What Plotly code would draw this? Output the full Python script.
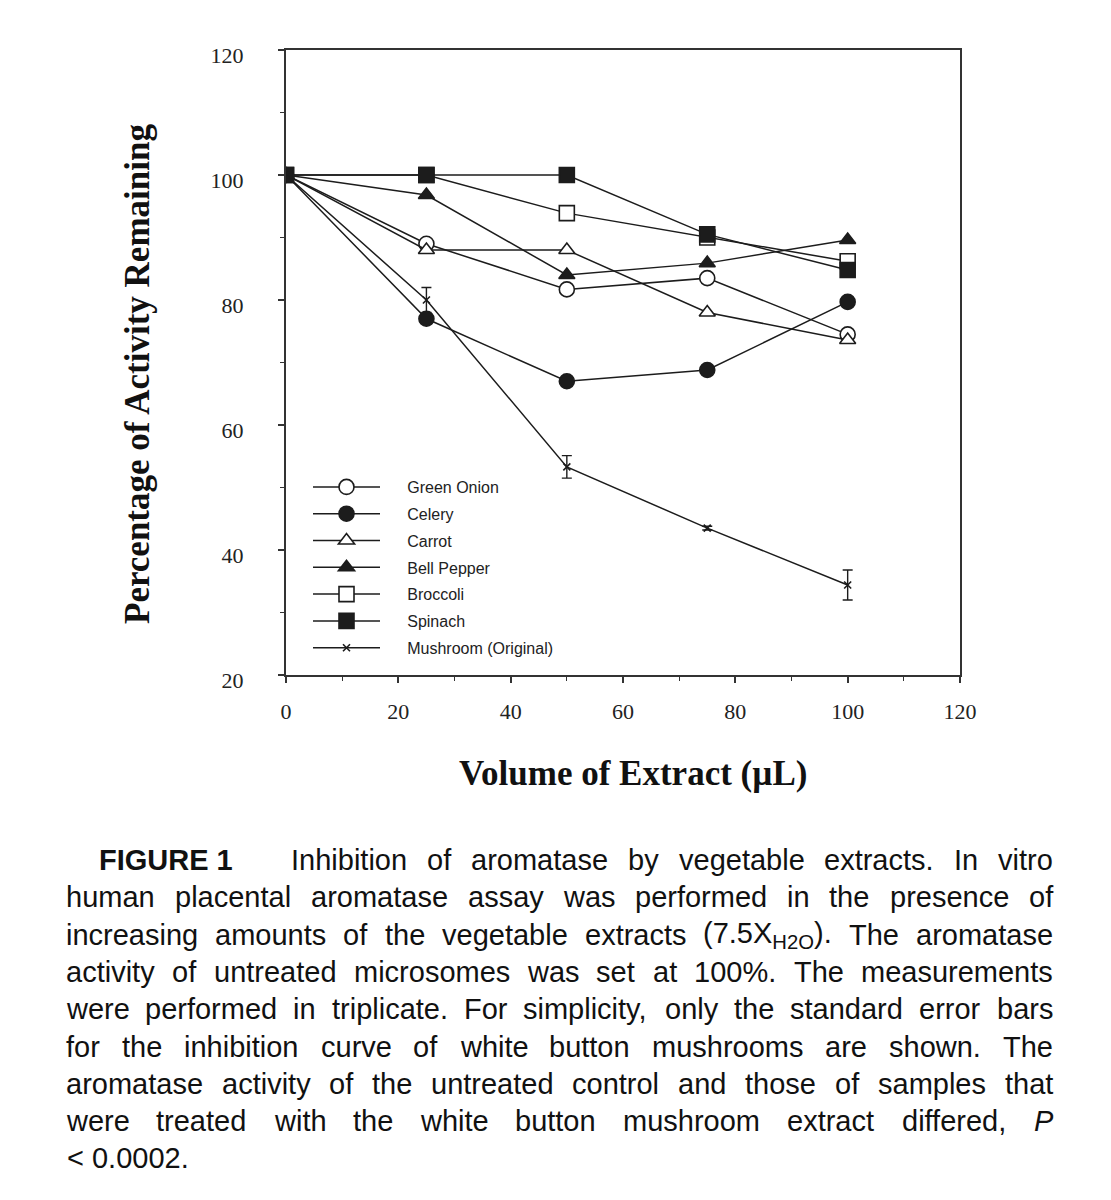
import re
import plotly.graph_objects as go

# ---------------- data ----------------
volume = [0, 25, 50, 75, 100]
green_onion = [100, 89.0, 81.7, 83.5, 74.5]
celery = [100, 77.0, 67.0, 68.8, 79.7]
carrot = [100, 88.0, 88.0, 78.0, 73.6]
bell_pepper = [100, 96.8, 84.0, 85.9, 89.6]
broccoli = [100, 100, 93.9, 90.0, 86.2]
spinach = [100, 100, 100, 90.5, 84.8]
mushroom = [100, 80.0, 53.3, 43.5, 34.4]
mushroom_err = [0, 2.0, 1.8, 0.3, 2.4]

series_names = ["Green Onion", "Celery", "Carrot", "Bell Pepper", "Broccoli",
                "Spinach", "Mushroom (Original)"]
x_ticks = [0, 20, 40, 60, 80, 100, 120]
y_ticks = [20, 40, 60, 80, 100, 120]

x_title = "Volume of Extract (µL)"
y_title = "Percentage of Activity Remaining"

caption_head = "FIGURE 1"
caption_lines = [
    "Inhibition of aromatase by vegetable extracts. In vitro",
    "human placental aromatase assay was performed in the presence of",
    "increasing amounts of the vegetable extracts (7.5X<sub>H2O</sub>). The aromatase",
    "activity of untreated microsomes was set at 100%. The measurements",
    "were performed in triplicate. For simplicity, only the standard error bars",
    "for the inhibition curve of white button mushrooms are shown. The",
    "aromatase activity of the untreated control and those of samples that",
    "were treated with the white button mushroom extract differed, <i>P</i>",
    "< 0.0002.",
]

# ---------------- styling ----------------
LINE = "#1c1c1c"
SERIF = "Liberation Serif, Times New Roman, serif"
SANS = "Liberation Sans, Arial, sans-serif"

OFF = 8  # page body margin
# plot area in screen pixels
L, R, T, B = 286, 960, 50, 675
FW, FH = 1111 - OFF, 1200 - OFF


def px2x(px):
    return (px - L) / (R - L)


def py2y(py):
    return (B - py) / (B - T)


styles = [
    dict(symbol="circle", size=15, fill="white"),
    dict(symbol="circle", size=15, fill=LINE),
    dict(symbol="triangle-up", size=14, fill="white"),
    dict(symbol="triangle-up", size=14, fill=LINE),
    dict(symbol="square", size=15, fill="white"),
    dict(symbol="square", size=15, fill=LINE),
    dict(symbol="x-thin", size=7, fill=LINE),
]
values = [green_onion, celery, carrot, bell_pepper, broccoli, spinach, mushroom]

PAD = "\u00a0" * 5

fig = go.Figure()
for i, (name, vals, st) in enumerate(zip(series_names, values, styles)):
    kw = {}
    if name.startswith("Mushroom"):
        kw["error_y"] = dict(type="data", array=mushroom_err, visible=True,
                             color=LINE, thickness=1.4, width=5)
    fig.add_trace(go.Scatter(
        x=volume, y=vals, name=PAD + name, mode="lines+markers",
        legendgroup=f"g{i}",
        line=dict(color=LINE, width=1.5),
        marker=dict(symbol=st["symbol"], size=st["size"], color=st["fill"],
                    line=dict(color=LINE, width=1.6)),
        **kw,
    ))

# ---------------- caption (justified) ----------------
AW = {' ': 278, '!': 278, '(': 333, ')': 333, ',': 278, '-': 333, '.': 278,
      '%': 889, '<': 584, '/': 278,
      'A': 667, 'B': 667, 'C': 722, 'D': 722, 'E': 667, 'F': 611, 'G': 778,
      'H': 722, 'I': 278, 'J': 500, 'K': 667, 'L': 556, 'M': 833, 'N': 722,
      'O': 778, 'P': 667, 'Q': 778, 'R': 722, 'S': 667, 'T': 611, 'U': 722,
      'V': 667, 'W': 944, 'X': 667, 'Y': 667, 'Z': 611,
      'a': 556, 'b': 556, 'c': 500, 'd': 556, 'e': 556, 'f': 278, 'g': 556,
      'h': 556, 'i': 222, 'j': 222, 'k': 500, 'l': 222, 'm': 833, 'n': 556,
      'o': 556, 'p': 556, 'q': 556, 'r': 333, 's': 500, 't': 278, 'u': 556,
      'v': 500, 'w': 722, 'x': 500, 'y': 500, 'z': 500}
for d in "0123456789":
    AW[d] = 556

CAP_SIZE = 29


def word_width(w, size):
    total = 0.0
    for p in re.split(r"(<sub>.*?</sub>)", w):
        if p.startswith("<sub>"):
            inner = p[5:-6]
            total += sum(AW.get(c, 556) for c in inner) * size * 0.7 / 1000
        else:
            clean = re.sub(r"</?i>", "", p)
            total += sum(AW.get(c, 556) for c in clean) * size / 1000
    return total


CAP_LEFT, CAP_RIGHT = 65, 1052
CAP_Y0, CAP_DY = 860, 37.3

annotations = []
cap_font = dict(family=SANS, size=CAP_SIZE, color="#111111")

annotations.append(dict(
    text=f"<b>{caption_head}</b>", x=px2x(97), y=py2y(CAP_Y0),
    xref="paper", yref="paper", xanchor="left", yanchor="middle",
    showarrow=False, font=cap_font))

for li, line in enumerate(caption_lines):
    y = py2y(CAP_Y0 + li * CAP_DY)
    words = line.split(" ")
    left = 290 if li == 0 else CAP_LEFT
    if li == len(caption_lines) - 1:
        annotations.append(dict(
            text=line, x=px2x(left), y=y, xref="paper", yref="paper",
            xanchor="left", yanchor="middle", showarrow=False, font=cap_font))
        continue
    widths = [word_width(w, CAP_SIZE) for w in words]
    gap = (CAP_RIGHT - left - sum(widths)) / (len(words) - 1)
    xpos = left
    for w, wd in zip(words, widths):
        annotations.append(dict(
            text=w, x=px2x(xpos), y=y, xref="paper", yref="paper",
            xanchor="left", yanchor="middle", showarrow=False, font=cap_font,
            borderpad=0))
        xpos += wd + gap

# axis titles
annotations.append(dict(
    text=f"<b>{x_title}</b>", x=px2x(633), y=py2y(773), xref="paper", yref="paper",
    xanchor="center", yanchor="middle", showarrow=False,
    font=dict(family=SERIF, size=35, color="#111111")))
annotations.append(dict(
    text=f"<b>{y_title}</b>", x=px2x(137), y=py2y(374), xref="paper", yref="paper",
    xanchor="center", yanchor="middle", showarrow=False, textangle=-90,
    font=dict(family=SERIF, size=35, color="#111111")))

axis_common = dict(
    showline=True, linecolor="#333333", linewidth=2, mirror=True,
    ticks="outside", ticklen=6, tickwidth=1.5, tickcolor="#333333",
    showgrid=False, zeroline=False,
    tickfont=dict(family=SERIF, size=22, color="#222222"),
    minor=dict(ticks="outside", ticklen=4, tickwidth=1.2, tickcolor="#333333", dtick=10),
)

fig.update_layout(
    width=FW, height=FH,
    margin=dict(l=L - OFF, r=FW - (R - OFF), t=T - OFF, b=FH - (B - OFF)),
    paper_bgcolor="white", plot_bgcolor="white",
    showlegend=True,
    legend=dict(
        x=px2x(308), y=py2y(470), xanchor="left", yanchor="top",
        bgcolor="rgba(0,0,0,0)", borderwidth=0,
        font=dict(family=SANS, size=16, color="#222222"),
        itemwidth=67, tracegroupgap=3, traceorder="grouped",
    ),
    annotations=annotations,
    xaxis=dict(range=[0, 120], tickvals=x_ticks, ticklabelstandoff=10, **axis_common),
    yaxis=dict(range=[20, 120], tickvals=y_ticks, ticklabelstandoff=30,
               ticklabelshift=5, **axis_common),
)

fig.write_html("out.html")
